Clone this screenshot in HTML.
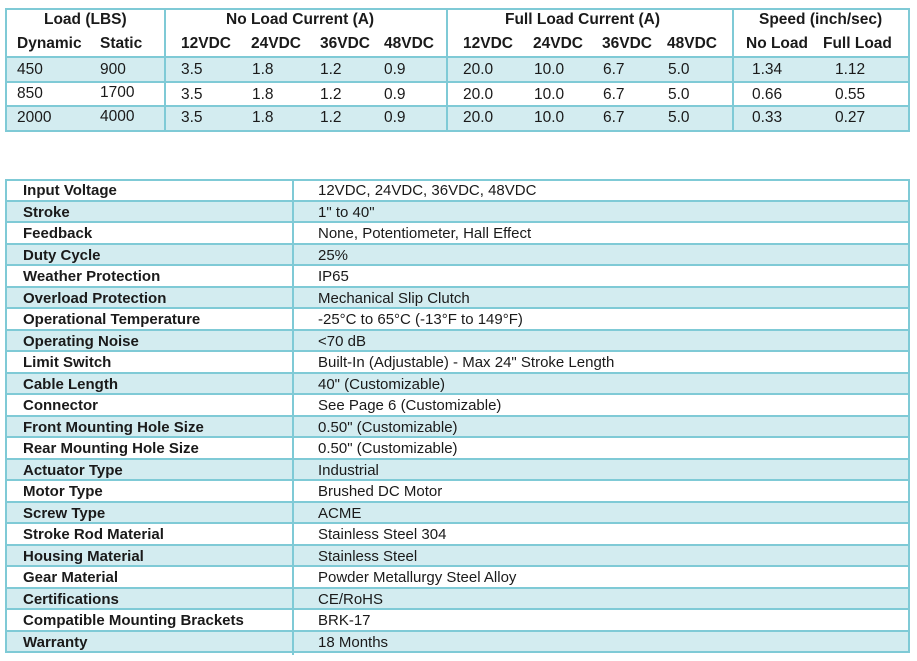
<!DOCTYPE html>
<html><head><style>
body{margin:0;width:917px;height:661px;background:#fff;font-family:"Liberation Sans",Arial,sans-serif;color:#1a1a1a;position:relative;overflow:hidden}
.a{position:absolute;white-space:nowrap}
.h{font-weight:bold;font-size:15.5px}
.d{font-size:15.5px}
.box{position:absolute;border:2px solid #7fcad6;box-sizing:border-box}
.row{position:absolute;background:#d3ecf0}
.hl{position:absolute;height:2px;background:#7fcad6}
.vl{position:absolute;width:2px;background:#7fcad6}
.r{height:21.5px;border-bottom:2px solid #7fcad6;box-sizing:border-box;position:relative;font-size:15px;line-height:19px}
.r:nth-child(even){background:#d3ecf0}
.r:last-child{border-bottom:none}
.r .k{position:absolute;left:18px;top:1px;font-weight:bold}
.r .v{position:absolute;left:313px;top:1px}
.r:before{content:"";position:absolute;left:287px;top:0;bottom:-2px;width:2px;background:#7fcad6}
</style></head><body>
<!-- top table -->
<div class="row" style="left:6px;top:57px;width:903px;height:25px"></div>
<div class="row" style="left:6px;top:106px;width:903px;height:24px"></div>
<div class="hl" style="left:6px;top:56px;width:903px"></div>
<div class="hl" style="left:6px;top:81px;width:903px"></div>
<div class="hl" style="left:6px;top:105px;width:903px"></div>
<div class="box" style="left:5px;top:8px;width:905px;height:124px"></div>
<div class="vl" style="left:164px;top:8px;height:124px"></div>
<div class="vl" style="left:446px;top:8px;height:124px"></div>
<div class="vl" style="left:732px;top:8px;height:124px"></div>
<div class="a h" style="left:44px;top:11px">Load (LBS)</div>
<div class="a h" style="left:226px;top:11px">No Load Current (A)</div>
<div class="a h" style="left:505px;top:11px">Full Load Current (A)</div>
<div class="a h" style="left:759px;top:11px">Speed (inch/sec)</div>
<div class="a h" style="left:17px;top:35px">Dynamic</div>
<div class="a h" style="left:100px;top:35px">Static</div>
<div class="a h" style="left:181px;top:35px">12VDC</div>
<div class="a h" style="left:251px;top:35px">24VDC</div>
<div class="a h" style="left:320px;top:35px">36VDC</div>
<div class="a h" style="left:384px;top:35px">48VDC</div>
<div class="a h" style="left:463px;top:35px">12VDC</div>
<div class="a h" style="left:533px;top:35px">24VDC</div>
<div class="a h" style="left:602px;top:35px">36VDC</div>
<div class="a h" style="left:667px;top:35px">48VDC</div>
<div class="a h" style="left:746px;top:35px">No Load</div>
<div class="a h" style="left:823px;top:35px">Full Load</div>

<div class="a d" style="left:17px;top:61px">450</div><div class="a d" style="left:100px;top:61px">900</div>
<div class="a d" style="left:17px;top:85px">850</div><div class="a d" style="left:100px;top:84px">1700</div>
<div class="a d" style="left:17px;top:109px">2000</div><div class="a d" style="left:100px;top:108px">4000</div>
<div class="a d" style="left:181px;top:61px">3.5</div><div class="a d" style="left:252px;top:61px">1.8</div><div class="a d" style="left:320px;top:61px">1.2</div><div class="a d" style="left:384px;top:61px">0.9</div>
<div class="a d" style="left:463px;top:61px">20.0</div><div class="a d" style="left:534px;top:61px">10.0</div><div class="a d" style="left:603px;top:61px">6.7</div><div class="a d" style="left:668px;top:61px">5.0</div>
<div class="a d" style="left:752px;top:61px">1.34</div><div class="a d" style="left:835px;top:61px">1.12</div>
<div class="a d" style="left:181px;top:86px">3.5</div><div class="a d" style="left:252px;top:86px">1.8</div><div class="a d" style="left:320px;top:86px">1.2</div><div class="a d" style="left:384px;top:86px">0.9</div>
<div class="a d" style="left:463px;top:86px">20.0</div><div class="a d" style="left:534px;top:86px">10.0</div><div class="a d" style="left:603px;top:86px">6.7</div><div class="a d" style="left:668px;top:86px">5.0</div>
<div class="a d" style="left:752px;top:86px">0.66</div><div class="a d" style="left:835px;top:86px">0.55</div>
<div class="a d" style="left:181px;top:109px">3.5</div><div class="a d" style="left:252px;top:109px">1.8</div><div class="a d" style="left:320px;top:109px">1.2</div><div class="a d" style="left:384px;top:109px">0.9</div>
<div class="a d" style="left:463px;top:109px">20.0</div><div class="a d" style="left:534px;top:109px">10.0</div><div class="a d" style="left:603px;top:109px">6.7</div><div class="a d" style="left:668px;top:109px">5.0</div>
<div class="a d" style="left:752px;top:109px">0.33</div><div class="a d" style="left:835px;top:109px">0.27</div>

<!-- bottom table -->
<div style="position:absolute;left:5px;top:180px;width:905px">
<div class="r"><span class="k">Input Voltage</span><span class="v">12VDC, 24VDC, 36VDC, 48VDC</span></div>
<div class="r"><span class="k">Stroke</span><span class="v">1" to 40"</span></div>
<div class="r"><span class="k">Feedback</span><span class="v">None, Potentiometer, Hall Effect</span></div>
<div class="r"><span class="k">Duty Cycle</span><span class="v">25%</span></div>
<div class="r"><span class="k">Weather Protection</span><span class="v">IP65</span></div>
<div class="r"><span class="k">Overload Protection</span><span class="v">Mechanical Slip Clutch</span></div>
<div class="r"><span class="k">Operational Temperature</span><span class="v">-25°C to 65°C (-13°F to 149°F)</span></div>
<div class="r"><span class="k">Operating Noise</span><span class="v">&lt;70 dB</span></div>
<div class="r"><span class="k">Limit Switch</span><span class="v">Built-In (Adjustable) - Max 24" Stroke Length</span></div>
<div class="r"><span class="k">Cable Length</span><span class="v">40" (Customizable)</span></div>
<div class="r"><span class="k">Connector</span><span class="v">See Page 6 (Customizable)</span></div>
<div class="r"><span class="k">Front Mounting Hole Size</span><span class="v">0.50" (Customizable)</span></div>
<div class="r"><span class="k">Rear Mounting Hole Size</span><span class="v">0.50" (Customizable)</span></div>
<div class="r"><span class="k">Actuator Type</span><span class="v">Industrial</span></div>
<div class="r"><span class="k">Motor Type</span><span class="v">Brushed DC Motor</span></div>
<div class="r"><span class="k">Screw Type</span><span class="v">ACME</span></div>
<div class="r"><span class="k">Stroke Rod Material</span><span class="v">Stainless Steel 304</span></div>
<div class="r"><span class="k">Housing Material</span><span class="v">Stainless Steel</span></div>
<div class="r"><span class="k">Gear Material</span><span class="v">Powder Metallurgy Steel Alloy</span></div>
<div class="r"><span class="k">Certifications</span><span class="v">CE/RoHS</span></div>
<div class="r"><span class="k">Compatible Mounting Brackets</span><span class="v">BRK-17</span></div>
<div class="r"><span class="k">Warranty</span><span class="v">18 Months</span></div>
</div>
<div style="position:absolute;left:5px;top:179px;width:905px;height:474px;border:2px solid #7fcad6;box-sizing:border-box"></div>
</body></html>
